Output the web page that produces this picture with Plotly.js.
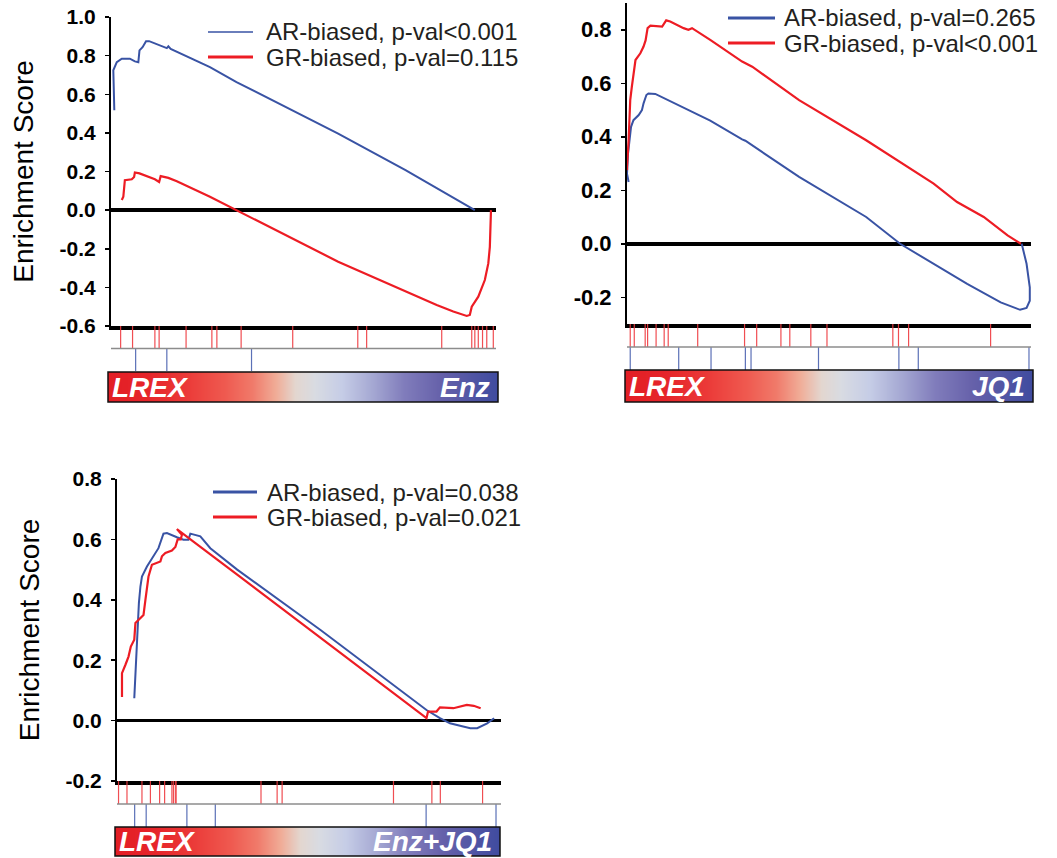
<!DOCTYPE html>
<html>
<head>
<meta charset="utf-8">
<script src="https://cdn.plot.ly/plotly-3.0.1.min.js"></script>
<style>
html,body{margin:0;padding:0;background:#ffffff;}
#chart{width:1057px;height:858px;}
</style>
</head>
<body>
<div id="chart"></div>
<script>
// ---------------- DATA ----------------
// Panel 1 : LREX vs Enz
const p1_ar_x = [0.86, 0.6, 1.5, 2.8, 4.9, 6.2, 7.1, 7.4, 8.2, 9.1, 9.9, 12.7, 14.5, 14.9, 15.5, 25.7, 32.6, 59.0, 76.5, 94.5];
const p1_ar_y = [0.517, 0.724, 0.766, 0.784, 0.784, 0.770, 0.766, 0.827, 0.844, 0.875, 0.875, 0.853, 0.839, 0.848, 0.835, 0.741, 0.663, 0.396, 0.207, 0.0];
const p1_gr_x = [2.8, 3.2, 3.6, 5.4, 6.0, 6.2, 7.4, 11.4, 12.5, 12.9, 14.9, 17.1, 25.7, 32.6, 59.0, 84.6, 88.9, 92.4, 93.2, 93.7, 95.4, 97.1, 98.0, 98.4, 98.6, 98.7];
const p1_gr_y = [0.052, 0.069, 0.155, 0.160, 0.172, 0.195, 0.190, 0.160, 0.146, 0.176, 0.167, 0.150, 0.069, 0.0, -0.267, -0.491, -0.525, -0.548, -0.543, -0.500, -0.448, -0.362, -0.276, -0.190, -0.069, 0.0];
const p1_gr_hits = [2.5, 5.6, 11.4, 12.5, 19.5, 26.2, 27.5, 33.8, 47.2, 64.1, 66.4, 85.9, 93.7, 94.5, 95.4, 96.5, 97.6, 99.3];
const p1_ar_hits = [6.4, 14.5, 36.5];

// Panel 2 : LREX vs JQ1
const p2_ar_x = [0.4, 0.0, 0.25, 0.6, 1.0, 1.6, 2.9, 3.7, 4.1, 4.8, 5.3, 7.0, 20.6, 28.5, 29.3, 42.6, 59.2, 67.6, 75.9, 84.2, 92.5, 96.7, 97.3, 98.9, 99.7, 99.7, 98.9, 97.7];
const p2_ar_y = [0.231, 0.262, 0.337, 0.387, 0.437, 0.462, 0.481, 0.500, 0.525, 0.556, 0.562, 0.560, 0.460, 0.390, 0.385, 0.250, 0.100, 0.0, -0.075, -0.150, -0.219, -0.244, -0.247, -0.240, -0.213, -0.163, -0.075, 0.0];
const p2_gr_x = [0.0, 0.0, 0.4, 0.8, 1.2, 2.1, 3.3, 4.1, 4.6, 5.1, 5.8, 8.7, 9.7, 10.7, 14.0, 15.2, 16.1, 20.6, 28.5, 31.0, 42.6, 59.2, 75.9, 81.7, 88.3, 94.2, 97.5];
const p2_gr_y = [0.275, 0.287, 0.387, 0.537, 0.587, 0.687, 0.712, 0.737, 0.760, 0.806, 0.815, 0.812, 0.835, 0.831, 0.806, 0.800, 0.806, 0.762, 0.681, 0.662, 0.537, 0.387, 0.225, 0.156, 0.100, 0.031, 0.0];
const p2_gr_hits = [0.8, 1.8, 4.5, 5.1, 7.2, 9.2, 10.2, 17.5, 29.1, 32.1, 38.1, 40.3, 45.5, 49.5, 65.8, 67.2, 69.7, 90.0];
const p2_ar_hits = [0.8, 12.8, 20.8, 29.3, 30.7, 47.4, 67.3, 72.1, 99.5];

// Panel 3 : LREX vs Enz+JQ1
const p3_ar_x = [4.5, 4.7, 5.0, 5.4, 5.7, 6.1, 6.5, 7.8, 9.5, 10.8, 12.1, 13.0, 15.6, 17.3, 18.6, 19.1, 21.7, 24.3, 31.3, 53.0, 80.6, 84.1, 86.7, 92.0, 93.8, 96.4, 98.2];
const p3_ar_y = [0.074, 0.135, 0.223, 0.312, 0.389, 0.444, 0.477, 0.510, 0.544, 0.571, 0.619, 0.621, 0.607, 0.599, 0.599, 0.619, 0.610, 0.571, 0.500, 0.300, 0.035, 0.008, -0.009, -0.025, -0.025, -0.009, 0.008];
const p3_gr_x = [1.3, 1.3, 2.2, 3.0, 3.6, 4.5, 4.8, 6.1, 6.9, 7.4, 7.8, 8.2, 9.1, 10.4, 11.3, 11.7, 12.6, 14.3, 15.2, 15.8, 16.6, 16.9, 15.6, 19.9, 24.3, 31.3, 52.0, 80.6, 81.0, 83.2, 84.1, 87.6, 91.1, 92.9, 94.7];
const p3_gr_y = [0.078, 0.157, 0.185, 0.212, 0.245, 0.268, 0.323, 0.339, 0.350, 0.400, 0.433, 0.477, 0.516, 0.524, 0.527, 0.544, 0.555, 0.563, 0.575, 0.600, 0.600, 0.615, 0.634, 0.593, 0.550, 0.483, 0.284, 0.008, 0.030, 0.030, 0.044, 0.041, 0.052, 0.049, 0.041];
const p3_gr_hits = [0.4, 2.6, 6.5, 8.7, 11.1, 12.4, 14.3, 14.7, 15.2, 15.4, 37.5, 41.7, 43.0, 72.0, 82.0, 84.2, 95.2];
const p3_ar_hits = [4.6, 7.6, 18.2, 25.6, 80.5, 98.7];

// Text
const series_names = ['AR-biased', 'GR-biased'];
const p1_legend = ['AR-biased, p-val<0.001', 'GR-biased, p-val=0.115'];
const p2_legend = ['AR-biased, p-val=0.265', 'GR-biased, p-val<0.001'];
const p3_legend = ['AR-biased, p-val=0.038', 'GR-biased, p-val=0.021'];
const bar_left_label = 'LREX';
const bar_right_labels = ['Enz', 'JQ1', 'Enz+JQ1'];
const y_title = 'Enrichment Score';
const p1_ytick_vals = [-0.6, -0.4, -0.2, 0.0, 0.2, 0.4, 0.6, 0.8, 1.0];
const p1_ytick_text = ['-0.6', '-0.4', '-0.2', '0.0', '0.2', '0.4', '0.6', '0.8', '1.0'];
const p23_ytick_vals = [-0.2, 0.0, 0.2, 0.4, 0.6, 0.8];
const p23_ytick_text = ['-0.2', '0.0', '0.2', '0.4', '0.6', '0.8'];

// Ranked-list colour bar (gradient stops)
const bar_stop_pos = [0.0, 0.1, 0.2, 0.3, 0.37, 0.43, 0.48, 0.53, 0.6, 0.68, 0.76, 0.85, 1.0];
const bar_stop_col = ['#e31e25', '#e6252a', '#eb3a38', '#ef5a50', '#f07a6a', '#f0ad98', '#e3d6cf', '#d8dbe2', '#c5cce6', '#a4a7d2', '#807cbb', '#6661aa', '#3f4b9f'];

// ---------------- STYLE / LAYOUT ----------------
const W = 1057, H = 858;
const BLUE = '#3953a4', RED = '#ed1c24';
const FONT = 'Liberation Sans, Arial, Helvetica, sans-serif';
const xd = (a, b) => [a / W, b / W];
const yd = (top, bottom) => [1 - bottom / H, 1 - top / H];

const panels = [
  { ar: [p1_ar_x, p1_ar_y], gr: [p1_gr_x, p1_gr_y], grHits: p1_gr_hits, arHits: p1_ar_hits,
    legend: p1_legend, right: bar_right_labels[0], tv: p1_ytick_vals, tt: p1_ytick_text, tickSize: 21,
    range: [-0.6, 1.0], esX: [111, 496], esY: [17, 326], hitsY: [326, 371], barX: [108, 498], barY: [372, 402],
    legX: [208, 253, 264], legY: [32, 57], arLegW: 1.3, title: true },
  { ar: [p2_ar_x, p2_ar_y], gr: [p2_gr_x, p2_gr_y], grHits: p2_gr_hits, arHits: p2_ar_hits,
    legend: p2_legend, right: bar_right_labels[1], tv: p23_ytick_vals, tt: p23_ytick_text, tickSize: 22,
    range: [-0.3, 0.9], esX: [627, 1031], esY: [3, 324], hitsY: [324, 370], barX: [625, 1033], barY: [370, 402],
    legX: [728, 775, 782], legY: [18, 43], arLegW: 3, title: false },
  { ar: [p3_ar_x, p3_ar_y], gr: [p3_gr_x, p3_gr_y], grHits: p3_gr_hits, arHits: p3_ar_hits,
    legend: p3_legend, right: bar_right_labels[2], tv: p23_ytick_vals, tt: p23_ytick_text, tickSize: 21,
    range: [-0.2, 0.8], esX: [117, 501], esY: [479, 781], hitsY: [781, 827], barX: [115, 500], barY: [827, 856],
    legX: [213, 257, 265], legY: [492, 517], arLegW: 3, title: true }
];

const sfx = n => (n === 1 ? '' : String(n));
const esc = s => s.replace(/</g, '&lt;');

const traces = [];
const layout = {
  width: W, height: H, margin: { l: 0, r: 0, t: 0, b: 0 },
  paper_bgcolor: '#ffffff', plot_bgcolor: 'rgba(0,0,0,0)',
  showlegend: false, font: { family: FONT, color: '#000' },
  shapes: [], annotations: []
};

function hitXY(hits, y0, y1) {
  const x = [], y = [];
  hits.forEach(h => { x.push(h, h, null); y.push(y0, y1, null); });
  return [x, y];
}

panels.forEach((p, i) => {
  const nE = 3 * i + 1, nH = nE + 1, nB = nE + 2;
  // Enrichment-score curves
  traces.push({ type: 'scatter', mode: 'lines', name: series_names[0], x: p.ar[0], y: p.ar[1],
    xaxis: 'x' + sfx(nE), yaxis: 'y' + sfx(nE), line: { color: BLUE, width: 2 }, hoverinfo: 'skip' });
  traces.push({ type: 'scatter', mode: 'lines', name: series_names[1], x: p.gr[0], y: p.gr[1],
    xaxis: 'x' + sfx(nE), yaxis: 'y' + sfx(nE), line: { color: RED, width: 2.2 }, hoverinfo: 'skip' });
  // Hit bars
  const rh = hitXY(p.grHits, 1, 2), bh = hitXY(p.arHits, 0, 1);
  traces.push({ type: 'scatter', mode: 'lines', x: rh[0], y: rh[1], xaxis: 'x' + sfx(nH), yaxis: 'y' + sfx(nH),
    line: { color: '#ef3b40', width: 1.2 }, opacity: 0.9, hoverinfo: 'skip', connectgaps: false });
  traces.push({ type: 'scatter', mode: 'lines', x: bh[0], y: bh[1], xaxis: 'x' + sfx(nH), yaxis: 'y' + sfx(nH),
    line: { color: '#4a62b0', width: 1.2 }, opacity: 0.9, hoverinfo: 'skip', connectgaps: false });
  // Colour bar
  traces.push({ type: 'heatmap', x: bar_stop_pos, y: [0], z: [bar_stop_pos],
    colorscale: bar_stop_pos.map((v, k) => [v, bar_stop_col[k]]), zmin: 0, zmax: 1,
    zsmooth: 'best', showscale: false, hoverinfo: 'skip', xaxis: 'x' + sfx(nB), yaxis: 'y' + sfx(nB) });

  // axes
  layout['xaxis' + sfx(nE)] = { domain: xd(p.esX[0], p.esX[1]), range: [0, 100], anchor: 'y' + sfx(nE),
    showline: true, linecolor: '#000', linewidth: 4, showticklabels: false, ticks: '', showgrid: false, zeroline: false, fixedrange: true };
  layout['yaxis' + sfx(nE)] = { domain: yd(p.esY[0], p.esY[1]), range: p.range, anchor: 'x' + sfx(nE),
    showline: true, linecolor: '#000', linewidth: 2, ticks: 'outside', ticklen: 4, tickwidth: 1.5, tickcolor: '#000',
    tickvals: p.tv, ticktext: p.tt, ticklabelstandoff: 5,
    tickfont: { family: FONT, size: p.tickSize, color: '#000', weight: 'bold' },
    showgrid: false, zeroline: true, zerolinecolor: '#000', zerolinewidth: 3.5, fixedrange: true,
    title: p.title ? { text: y_title, font: { family: FONT, size: 28, color: '#000' }, standoff: 18 } : { text: '' } };
  layout['xaxis' + sfx(nH)] = { domain: xd(p.esX[0], p.esX[1]), range: [0, 100], anchor: 'y' + sfx(nH), visible: false, fixedrange: true };
  layout['yaxis' + sfx(nH)] = { domain: yd(p.hitsY[0], p.hitsY[1]), range: [0, 2], anchor: 'x' + sfx(nH), visible: false, fixedrange: true };
  layout['xaxis' + sfx(nB)] = { domain: xd(p.barX[0], p.barX[1]), range: [0, 1], anchor: 'y' + sfx(nB), visible: false, fixedrange: true };
  layout['yaxis' + sfx(nB)] = { domain: yd(p.barY[0], p.barY[1]), range: [-0.5, 0.5], anchor: 'x' + sfx(nB), visible: false, fixedrange: true };

  // separator between hit rows
  layout.shapes.push({ type: 'line', xref: 'x' + sfx(nH) + ' domain', yref: 'y' + sfx(nH), x0: 0, x1: 1, y0: 1, y1: 1,
    line: { color: '#8c8c8c', width: 1.5 } });
  // colour-bar border
  layout.shapes.push({ type: 'rect', xref: 'x' + sfx(nB) + ' domain', yref: 'y' + sfx(nB) + ' domain', x0: 0, x1: 1, y0: 0, y1: 1,
    line: { color: '#111', width: 1.5 }, fillcolor: 'rgba(0,0,0,0)' });
  // colour-bar labels
  const barFont = { family: FONT, size: 28, color: '#ffffff', weight: 'bold', style: 'italic' };
  layout.annotations.push({ xref: 'x' + sfx(nB) + ' domain', yref: 'y' + sfx(nB) + ' domain', x: 0.005, y: 0.5,
    xanchor: 'left', yanchor: 'middle', text: bar_left_label, showarrow: false, font: barFont });
  layout.annotations.push({ xref: 'x' + sfx(nB) + ' domain', yref: 'y' + sfx(nB) + ' domain', x: 0.985, y: 0.5,
    xanchor: 'right', yanchor: 'middle', text: p.right, showarrow: false, font: barFont });

  // legend (sample line + text)
  const legCols = [BLUE, RED], legW = [p.arLegW, 3];
  [0, 1].forEach(k => {
    layout.shapes.push({ type: 'line', xref: 'paper', yref: 'paper', x0: p.legX[0] / W, x1: p.legX[1] / W,
      y0: 1 - p.legY[k] / H, y1: 1 - p.legY[k] / H, line: { color: legCols[k], width: legW[k] } });
    layout.annotations.push({ xref: 'paper', yref: 'paper', x: p.legX[2] / W, y: 1 - p.legY[k] / H,
      xanchor: 'left', yanchor: 'middle', text: esc(p.legend[k]), showarrow: false,
      font: { family: FONT, size: 24, color: '#231f20' } });
  });
});

Plotly.newPlot('chart', traces, layout, { staticPlot: true, displayModeBar: false });
</script>
</body>
</html>
